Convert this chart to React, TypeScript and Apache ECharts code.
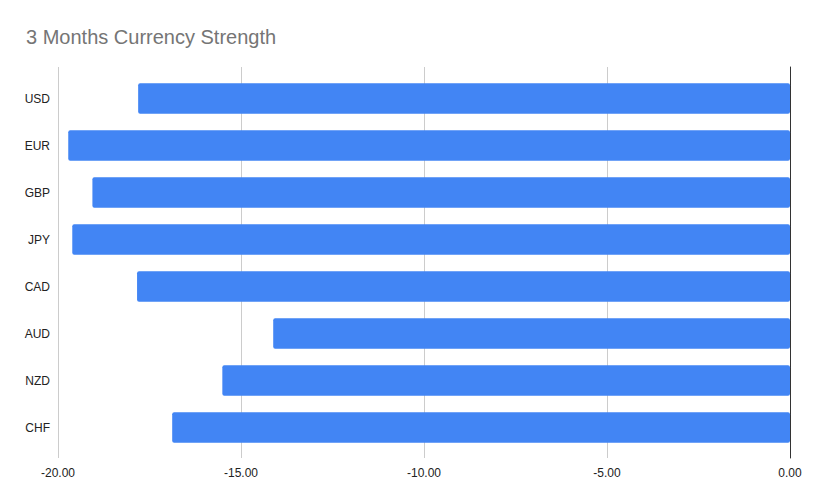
import React, { useEffect, useRef } from "react";
import * as echarts from "echarts";

const categories = ["USD", "EUR", "GBP", "JPY", "CAD", "AUD", "NZD", "CHF"];
const strength = [-17.81, -19.72, -19.06, -19.61, -17.84, -14.12, -15.51, -16.88];
const xMin = -20;
const xMax = 0;
const xInterval = 5;
const title = "3 Months Currency Strength";

const FONT = "'Liberation Sans', Arial, sans-serif";

export default function App() {
  const ref = useRef<HTMLDivElement>(null);
  useEffect(() => {
    if (!ref.current) return;
    const chart = echarts.init(ref.current, null, { renderer: "svg" });
    chart.setOption({
      animation: false,
      backgroundColor: "#ffffff",
      textStyle: { fontFamily: FONT },
      title: {
        text: title,
        left: 21,
        top: 22,
        textStyle: { fontFamily: FONT, fontSize: 20, fontWeight: "normal", color: "#757575" },
      },
      grid: [
        { left: 58, right: 26, top: 75, bottom: 53 },
        { left: 58, right: 26, top: 67, bottom: 46 },
      ],
      xAxis: [
        {
          gridIndex: 0,
          type: "value",
          min: xMin,
          max: xMax,
          interval: xInterval,
          show: false,
        },
        {
          gridIndex: 1,
          type: "value",
          min: xMin,
          max: xMax,
          interval: xInterval,
          axisLine: { show: false },
          axisTick: { show: false },
          splitLine: { show: true, lineStyle: { color: "#cccccc", width: 1 } },
          axisLabel: {
            margin: 9,
            fontFamily: FONT,
            fontSize: 12,
            color: "#222222",
            formatter: (v: number) => v.toFixed(2),
          },
        },
      ],
      yAxis: [
        {
          gridIndex: 0,
          type: "category",
          data: categories,
          inverse: true,
          axisLine: { show: false },
          axisTick: { show: false },
          splitLine: { show: false },
          axisLabel: { margin: 8, fontFamily: FONT, fontSize: 12, color: "#222222" },
        },
        {
          gridIndex: 1,
          type: "value",
          min: 0,
          max: 1,
          position: "right",
          axisLine: { show: true, onZero: false, lineStyle: { color: "#333333", width: 1 } },
          axisTick: { show: false },
          axisLabel: { show: false },
          splitLine: { show: false },
        },
      ],
      series: [
        {
          type: "bar",
          xAxisIndex: 0,
          yAxisIndex: 0,
          data: strength,
          barCategoryGap: "35%",
          itemStyle: { color: "#4285f4", borderRadius: 2 },
          z: 2,
        },
      ],
    });
    return () => chart.dispose();
  }, []);
  return (
    <div
      ref={ref}
      style={{ position: "absolute", left: 0, top: 0, width: 816, height: 504 }}
    />
  );
}
